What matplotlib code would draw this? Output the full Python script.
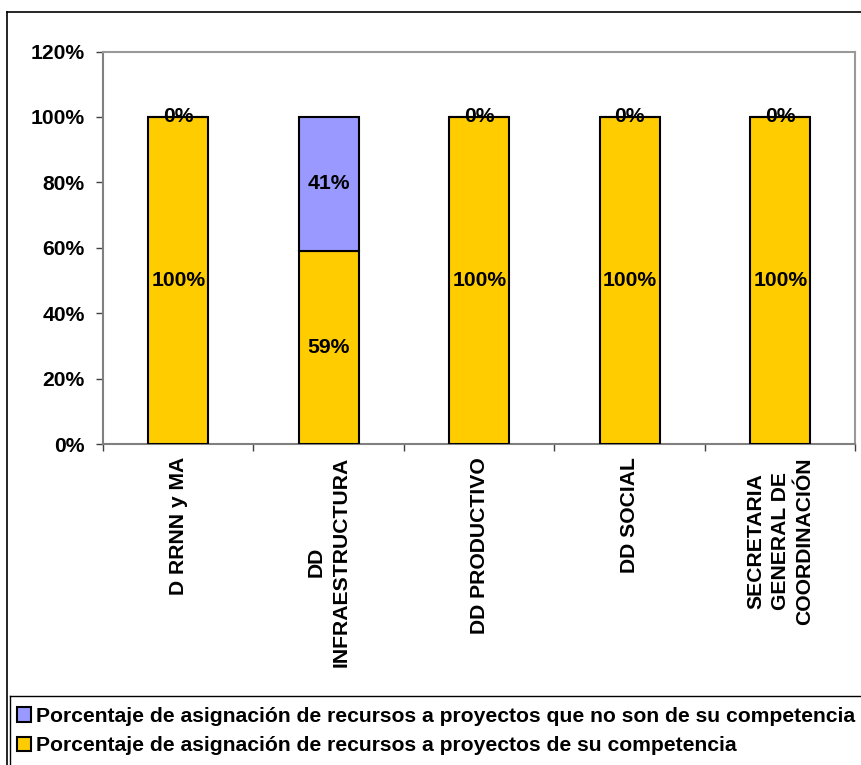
import matplotlib
matplotlib.use("Agg")
import matplotlib.pyplot as plt
from matplotlib.patches import Patch
from matplotlib.lines import Line2D
import numpy as np

categories = ["D RRNN y MA", "DD\nINFRAESTRUCTURA", "DD PRODUCTIVO", "DD SOCIAL",
              "SECRETARIA\nGENERAL DE\nCOORDINACIÓN"]
propia = [100, 59, 100, 100, 100]      # proyectos de su competencia
ajena = [0, 41, 0, 0, 0]               # proyectos que no son de su competencia
yticks = [0, 20, 40, 60, 80, 100, 120]
legend_labels = ["Porcentaje de asignación de recursos a proyectos que no son de su competencia",
                 "Porcentaje de asignación de recursos a proyectos de su competencia"]

plt.rcParams['font.family'] = ['Liberation Sans', 'DejaVu Sans']
plt.rcParams['font.weight'] = 'bold'

W, H = 862, 765
fig = plt.figure(figsize=(W / 100, H / 100), dpi=100)
fig.patch.set_facecolor('white')

def px(x0, y0, x1, y1):
    return [x0 / W, 1 - y1 / H, (x1 - x0) / W, (y1 - y0) / H]

ax = fig.add_axes(px(103, 51.5, 855.5, 444))
yellow = '#FFCC00'
blue = '#9999FF'
x = np.arange(len(categories))
ax.bar(x, propia, width=0.4, color=yellow, edgecolor='black', linewidth=1.5, zorder=3)
ax.bar(x, ajena, width=0.4, bottom=propia, color=blue, edgecolor='black', linewidth=1.5, zorder=3)

fs = 15.2
for i in range(len(categories)):
    ax.text(x[i], propia[i] / 2, f"{propia[i]}%", ha='center', va='center',
            fontsize=fs, fontweight='bold', zorder=5)
    ax.text(x[i], propia[i] + ajena[i] / 2, f"{ajena[i]}%", ha='center', va='center',
            fontsize=fs, fontweight='bold', zorder=5)

ax.set_xlim(-0.5, len(categories) - 0.5)
ax.set_ylim(0, 120)
ax.set_yticks(yticks)
ax.set_yticklabels([f"{v}%" for v in yticks], fontsize=fs, fontweight='bold')
ax.set_xticks(x)
ax.set_xticklabels(categories, rotation=90, fontsize=fs, fontweight='bold',
                   va='top', ha='center', multialignment='center', linespacing=1.38)
ax.set_xticks(np.arange(-0.5, len(categories)), minor=True)
ax.tick_params(axis='x', which='major', length=0, pad=9.5)
ax.tick_params(axis='x', which='minor', length=5, width=1, color='#404040', direction='out')
ax.tick_params(axis='y', length=5, width=1, color='#404040', direction='out', pad=8)
for s in ['top', 'right']:
    ax.spines[s].set_color('#999999')
    ax.spines[s].set_linewidth(1.5)
ax.spines['left'].set_color('#808080')
ax.spines['bottom'].set_color('#808080')
ax.spines['left'].set_linewidth(1.5)
ax.spines['bottom'].set_linewidth(1.5)

# figure border
fig.add_artist(Line2D([7 / W, 7 / W], [0, 1 - 12 / H], transform=fig.transFigure,
                      color='black', linewidth=1.2))
fig.add_artist(Line2D([7 / W, 1], [1 - 12 / H, 1 - 12 / H], transform=fig.transFigure,
                      color='black', linewidth=1.2))
# legend box
fig.add_artist(Line2D([10 / W, 10 / W], [0, 1 - 696 / H], transform=fig.transFigure,
                      color='black', linewidth=1.0))
fig.add_artist(Line2D([10 / W, 1], [1 - 696 / H, 1 - 696 / H], transform=fig.transFigure,
                      color='black', linewidth=1.0))

handles = [Patch(facecolor=blue, edgecolor='black', linewidth=1.5),
           Patch(facecolor=yellow, edgecolor='black', linewidth=1.5)]
leg = fig.legend(handles, legend_labels, loc='upper left', bbox_to_anchor=(17 / W, 1 - 707 / H),
                 frameon=False, fontsize=fs, handlelength=0.66, handleheight=0.66,
                 handletextpad=0.22, labelspacing=0.48, borderpad=0, borderaxespad=0)
for t in leg.get_texts():
    t.set_fontweight('bold')

fig.savefig('out.png', dpi=100)
